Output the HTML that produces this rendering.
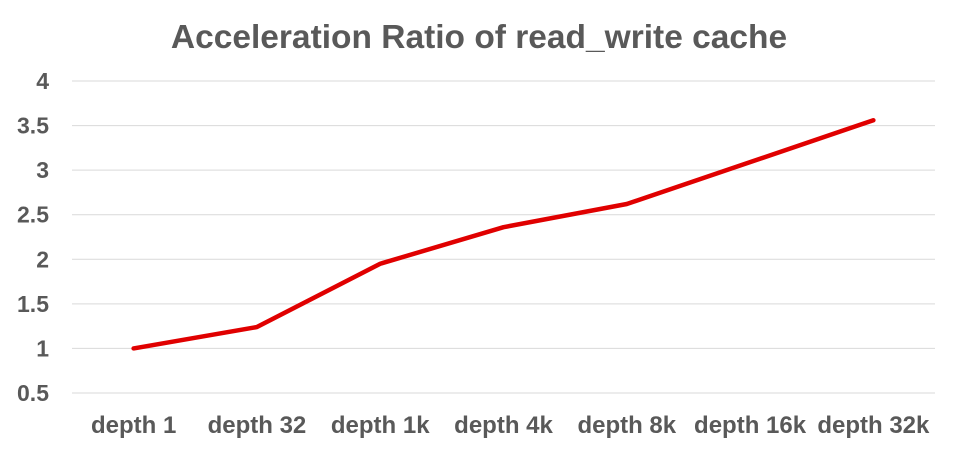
<!DOCTYPE html>
<html><head><meta charset="utf-8"><style>
body{margin:0;background:#fff;}
svg text{font-family:"Liberation Sans",Arial,sans-serif;font-weight:bold;fill:#595959;}
</style></head><body>
<svg width="958" height="450">
<rect width="958" height="450" fill="#fff"/>
<text x="479" y="48" text-anchor="middle" font-size="33.5">Acceleration Ratio of read_write cache</text>
<g id="grid"></g><g id="yt"></g><g id="xt"></g><g id="ser"></g>
</svg>
<script>
const categories=["depth 1","depth 32","depth 1k","depth 4k","depth 8k","depth 16k","depth 32k"];
const values=[1.0,1.24,1.95,2.36,2.62,3.09,3.56];
const yTicks=[0.5,1,1.5,2,2.5,3,3.5,4];
const NS="http://www.w3.org/2000/svg";
const x0=72,x1=935,yMin=0.5,yMax=4,py0=393,py1=81;
const bw=(x1-x0)/categories.length;
const X=i=>x0+bw*(i+0.5);
const Y=v=>py0-(v-yMin)/(yMax-yMin)*(py0-py1);
function mk(t,a,p){const e=document.createElementNS(NS,t);for(const k in a)e.setAttribute(k,a[k]);p.appendChild(e);return e;}
const g=document.getElementById('grid'),yt=document.getElementById('yt'),xt=document.getElementById('xt'),s=document.getElementById('ser');
yTicks.forEach(v=>{
 const l=mk('line',{x1:x0,x2:x1,y1:Y(v),y2:Y(v),stroke:'#d9d9d9','stroke-width':1},g);
 
 
 const t=mk('text',{x:49,y:Y(v)+8,'text-anchor':'end','font-size':23},yt);
 t.textContent=v;
 
 
});
categories.forEach((c,i)=>{
 const t=mk('text',{x:X(i),y:433,'text-anchor':'middle','font-size':24},xt);
 t.textContent=c;
 
 
});
const p=mk('polyline',{points:values.map((v,i)=>X(i)+','+Y(v)).join(' '),fill:'none',stroke:'#e00000','stroke-width':4.5,'stroke-linejoin':'round','stroke-linecap':'round'},s);


</script>
</body></html>
